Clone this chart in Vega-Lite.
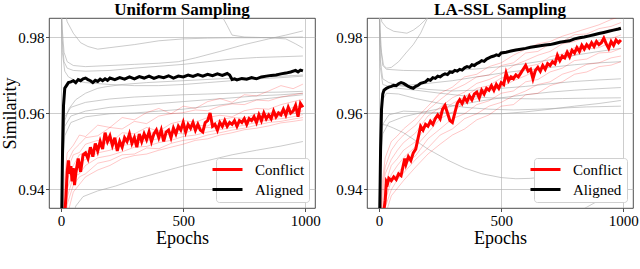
{
"$schema":"https://vega.github.io/schema/vega-lite/v6.json",
"padding":{"left":1,"top":0,"right":0,"bottom":0},
"config":{
"font":"Liberation Serif",
"view":{"stroke":"#222","strokeWidth":0.8},
"axis":{"labelFont":"Liberation Serif","labelFontSize":15,"labelColor":"#000","titleFont":"Liberation Serif","titleFontSize":18,"titleFontWeight":"normal","titleColor":"#000","grid":true,"gridColor":"#b0b0b0","gridWidth":0.8,"gridOpacity":0.8,"domain":false,"tickColor":"#222","tickSize":3.5,"tickWidth":0.8,"labelPadding":1.5},
"title":{"font":"Liberation Serif","fontSize":17,"fontWeight":"bold","color":"#000","offset":-1},
"legend":{"orient":"bottom-right","offset":6,"fillColor":"white","strokeColor":"#d0d0d0","cornerRadius":3,"padding":4,"symbolType":"M-3,0L3,0","symbolStrokeWidth":3,"symbolSize":100,"labelFont":"Liberation Serif","labelFontSize":15,"labelColor":"#000","labelOffset":20,"rowPadding":4}
},
"data":{"values":[
{"p":"U","k":"t","s":"Conflict","e":0,"v":0.9},{"p":"U","k":"t","s":"Conflict","e":5,"v":0.925},{"p":"U","k":"t","s":"Conflict","e":10,"v":0.93},{"p":"U","k":"t","s":"Conflict","e":15,"v":0.9335},{"p":"U","k":"t","s":"Conflict","e":20,"v":0.938},{"p":"U","k":"t","s":"Conflict","e":25,"v":0.9445},{"p":"U","k":"t","s":"Conflict","e":30,"v":0.9475},{"p":"U","k":"t","s":"Conflict","e":35,"v":0.944},{"p":"U","k":"t","s":"Conflict","e":40,"v":0.946},{"p":"U","k":"t","s":"Conflict","e":45,"v":0.942},{"p":"U","k":"t","s":"Conflict","e":50,"v":0.9455},{"p":"U","k":"t","s":"Conflict","e":55,"v":0.941},{"p":"U","k":"t","s":"Conflict","e":60,"v":0.944},{"p":"U","k":"t","s":"Conflict","e":70,"v":0.948},{"p":"U","k":"t","s":"Conflict","e":80,"v":0.9445},{"p":"U","k":"t","s":"Conflict","e":90,"v":0.949},{"p":"U","k":"t","s":"Conflict","e":100,"v":0.9495},{"p":"U","k":"t","s":"Conflict","e":110,"v":0.948},{"p":"U","k":"t","s":"Conflict","e":120,"v":0.951},{"p":"U","k":"t","s":"Conflict","e":130,"v":0.9485},{"p":"U","k":"t","s":"Conflict","e":140,"v":0.952},{"p":"U","k":"t","s":"Conflict","e":150,"v":0.95},{"p":"U","k":"t","s":"Conflict","e":160,"v":0.9525},{"p":"U","k":"t","s":"Conflict","e":170,"v":0.9505},{"p":"U","k":"t","s":"Conflict","e":180,"v":0.9548},{"p":"U","k":"t","s":"Conflict","e":190,"v":0.9525},{"p":"U","k":"t","s":"Conflict","e":200,"v":0.954},{"p":"U","k":"t","s":"Conflict","e":210,"v":0.9515},{"p":"U","k":"t","s":"Conflict","e":220,"v":0.9535},{"p":"U","k":"t","s":"Conflict","e":230,"v":0.95},{"p":"U","k":"t","s":"Conflict","e":240,"v":0.9525},{"p":"U","k":"t","s":"Conflict","e":250,"v":0.951},{"p":"U","k":"t","s":"Conflict","e":260,"v":0.9535},{"p":"U","k":"t","s":"Conflict","e":270,"v":0.9525},{"p":"U","k":"t","s":"Conflict","e":280,"v":0.9545},{"p":"U","k":"t","s":"Conflict","e":290,"v":0.952},{"p":"U","k":"t","s":"Conflict","e":300,"v":0.9535},{"p":"U","k":"t","s":"Conflict","e":310,"v":0.951},{"p":"U","k":"t","s":"Conflict","e":320,"v":0.9545},{"p":"U","k":"t","s":"Conflict","e":330,"v":0.9525},{"p":"U","k":"t","s":"Conflict","e":340,"v":0.9545},{"p":"U","k":"t","s":"Conflict","e":350,"v":0.953},{"p":"U","k":"t","s":"Conflict","e":360,"v":0.955},{"p":"U","k":"t","s":"Conflict","e":370,"v":0.9525},{"p":"U","k":"t","s":"Conflict","e":380,"v":0.9545},{"p":"U","k":"t","s":"Conflict","e":390,"v":0.9555},{"p":"U","k":"t","s":"Conflict","e":400,"v":0.9535},{"p":"U","k":"t","s":"Conflict","e":410,"v":0.9555},{"p":"U","k":"t","s":"Conflict","e":420,"v":0.9525},{"p":"U","k":"t","s":"Conflict","e":430,"v":0.955},{"p":"U","k":"t","s":"Conflict","e":440,"v":0.9555},{"p":"U","k":"t","s":"Conflict","e":450,"v":0.9535},{"p":"U","k":"t","s":"Conflict","e":460,"v":0.956},{"p":"U","k":"t","s":"Conflict","e":470,"v":0.9545},{"p":"U","k":"t","s":"Conflict","e":480,"v":0.9565},{"p":"U","k":"t","s":"Conflict","e":490,"v":0.9555},{"p":"U","k":"t","s":"Conflict","e":500,"v":0.9575},{"p":"U","k":"t","s":"Conflict","e":510,"v":0.955},{"p":"U","k":"t","s":"Conflict","e":520,"v":0.957},{"p":"U","k":"t","s":"Conflict","e":530,"v":0.956},{"p":"U","k":"t","s":"Conflict","e":540,"v":0.9575},{"p":"U","k":"t","s":"Conflict","e":550,"v":0.9555},{"p":"U","k":"t","s":"Conflict","e":560,"v":0.957},{"p":"U","k":"t","s":"Conflict","e":570,"v":0.9555},{"p":"U","k":"t","s":"Conflict","e":580,"v":0.955},{"p":"U","k":"t","s":"Conflict","e":590,"v":0.9575},{"p":"U","k":"t","s":"Conflict","e":600,"v":0.958},{"p":"U","k":"t","s":"Conflict","e":610,"v":0.96},{"p":"U","k":"t","s":"Conflict","e":620,"v":0.9565},{"p":"U","k":"t","s":"Conflict","e":630,"v":0.957},{"p":"U","k":"t","s":"Conflict","e":640,"v":0.9555},{"p":"U","k":"t","s":"Conflict","e":650,"v":0.9575},{"p":"U","k":"t","s":"Conflict","e":660,"v":0.9565},{"p":"U","k":"t","s":"Conflict","e":670,"v":0.958},{"p":"U","k":"t","s":"Conflict","e":680,"v":0.9565},{"p":"U","k":"t","s":"Conflict","e":690,"v":0.9575},{"p":"U","k":"t","s":"Conflict","e":700,"v":0.957},{"p":"U","k":"t","s":"Conflict","e":710,"v":0.958},{"p":"U","k":"t","s":"Conflict","e":720,"v":0.9565},{"p":"U","k":"t","s":"Conflict","e":730,"v":0.958},{"p":"U","k":"t","s":"Conflict","e":740,"v":0.9575},{"p":"U","k":"t","s":"Conflict","e":750,"v":0.9585},{"p":"U","k":"t","s":"Conflict","e":760,"v":0.957},{"p":"U","k":"t","s":"Conflict","e":770,"v":0.9585},{"p":"U","k":"t","s":"Conflict","e":780,"v":0.958},{"p":"U","k":"t","s":"Conflict","e":790,"v":0.959},{"p":"U","k":"t","s":"Conflict","e":800,"v":0.9575},{"p":"U","k":"t","s":"Conflict","e":810,"v":0.9595},{"p":"U","k":"t","s":"Conflict","e":820,"v":0.958},{"p":"U","k":"t","s":"Conflict","e":830,"v":0.96},{"p":"U","k":"t","s":"Conflict","e":840,"v":0.9585},{"p":"U","k":"t","s":"Conflict","e":850,"v":0.9595},{"p":"U","k":"t","s":"Conflict","e":860,"v":0.9585},{"p":"U","k":"t","s":"Conflict","e":870,"v":0.9605},{"p":"U","k":"t","s":"Conflict","e":880,"v":0.959},{"p":"U","k":"t","s":"Conflict","e":890,"v":0.96},{"p":"U","k":"t","s":"Conflict","e":900,"v":0.9595},{"p":"U","k":"t","s":"Conflict","e":910,"v":0.961},{"p":"U","k":"t","s":"Conflict","e":920,"v":0.9595},{"p":"U","k":"t","s":"Conflict","e":930,"v":0.9615},{"p":"U","k":"t","s":"Conflict","e":940,"v":0.96},{"p":"U","k":"t","s":"Conflict","e":950,"v":0.9605},{"p":"U","k":"t","s":"Conflict","e":960,"v":0.962},{"p":"U","k":"t","s":"Conflict","e":970,"v":0.959},{"p":"U","k":"t","s":"Conflict","e":980,"v":0.9625},{"p":"U","k":"t","s":"Conflict","e":990,"v":0.9615},
{"p":"U","k":"t","s":"Aligned","e":0,"v":0.9},{"p":"U","k":"t","s":"Aligned","e":3,"v":0.935},{"p":"U","k":"t","s":"Aligned","e":6,"v":0.95},{"p":"U","k":"t","s":"Aligned","e":10,"v":0.962},{"p":"U","k":"t","s":"Aligned","e":15,"v":0.9665},{"p":"U","k":"t","s":"Aligned","e":20,"v":0.967},{"p":"U","k":"t","s":"Aligned","e":30,"v":0.968},{"p":"U","k":"t","s":"Aligned","e":40,"v":0.9682},{"p":"U","k":"t","s":"Aligned","e":50,"v":0.9685},{"p":"U","k":"t","s":"Aligned","e":60,"v":0.968},{"p":"U","k":"t","s":"Aligned","e":70,"v":0.9688},{"p":"U","k":"t","s":"Aligned","e":80,"v":0.9685},{"p":"U","k":"t","s":"Aligned","e":90,"v":0.969},{"p":"U","k":"t","s":"Aligned","e":100,"v":0.9692},{"p":"U","k":"t","s":"Aligned","e":110,"v":0.9688},{"p":"U","k":"t","s":"Aligned","e":120,"v":0.9685},{"p":"U","k":"t","s":"Aligned","e":130,"v":0.968},{"p":"U","k":"t","s":"Aligned","e":140,"v":0.9686},{"p":"U","k":"t","s":"Aligned","e":150,"v":0.9683},{"p":"U","k":"t","s":"Aligned","e":160,"v":0.9689},{"p":"U","k":"t","s":"Aligned","e":170,"v":0.9685},{"p":"U","k":"t","s":"Aligned","e":180,"v":0.969},{"p":"U","k":"t","s":"Aligned","e":190,"v":0.9686},{"p":"U","k":"t","s":"Aligned","e":200,"v":0.9692},{"p":"U","k":"t","s":"Aligned","e":220,"v":0.9688},{"p":"U","k":"t","s":"Aligned","e":240,"v":0.9693},{"p":"U","k":"t","s":"Aligned","e":260,"v":0.9689},{"p":"U","k":"t","s":"Aligned","e":280,"v":0.9695},{"p":"U","k":"t","s":"Aligned","e":300,"v":0.969},{"p":"U","k":"t","s":"Aligned","e":320,"v":0.9696},{"p":"U","k":"t","s":"Aligned","e":340,"v":0.9692},{"p":"U","k":"t","s":"Aligned","e":360,"v":0.9697},{"p":"U","k":"t","s":"Aligned","e":380,"v":0.9691},{"p":"U","k":"t","s":"Aligned","e":400,"v":0.9696},{"p":"U","k":"t","s":"Aligned","e":420,"v":0.9693},{"p":"U","k":"t","s":"Aligned","e":440,"v":0.9698},{"p":"U","k":"t","s":"Aligned","e":460,"v":0.9692},{"p":"U","k":"t","s":"Aligned","e":480,"v":0.9697},{"p":"U","k":"t","s":"Aligned","e":500,"v":0.9695},{"p":"U","k":"t","s":"Aligned","e":520,"v":0.97},{"p":"U","k":"t","s":"Aligned","e":540,"v":0.9696},{"p":"U","k":"t","s":"Aligned","e":560,"v":0.9701},{"p":"U","k":"t","s":"Aligned","e":580,"v":0.9697},{"p":"U","k":"t","s":"Aligned","e":600,"v":0.9702},{"p":"U","k":"t","s":"Aligned","e":620,"v":0.9698},{"p":"U","k":"t","s":"Aligned","e":640,"v":0.9703},{"p":"U","k":"t","s":"Aligned","e":660,"v":0.9699},{"p":"U","k":"t","s":"Aligned","e":680,"v":0.9704},{"p":"U","k":"t","s":"Aligned","e":690,"v":0.97},{"p":"U","k":"t","s":"Aligned","e":700,"v":0.9688},{"p":"U","k":"t","s":"Aligned","e":710,"v":0.969},{"p":"U","k":"t","s":"Aligned","e":720,"v":0.9687},{"p":"U","k":"t","s":"Aligned","e":740,"v":0.9691},{"p":"U","k":"t","s":"Aligned","e":760,"v":0.9689},{"p":"U","k":"t","s":"Aligned","e":780,"v":0.9693},{"p":"U","k":"t","s":"Aligned","e":800,"v":0.969},{"p":"U","k":"t","s":"Aligned","e":820,"v":0.9695},{"p":"U","k":"t","s":"Aligned","e":840,"v":0.9697},{"p":"U","k":"t","s":"Aligned","e":860,"v":0.9699},{"p":"U","k":"t","s":"Aligned","e":880,"v":0.97},{"p":"U","k":"t","s":"Aligned","e":900,"v":0.9703},{"p":"U","k":"t","s":"Aligned","e":920,"v":0.9705},{"p":"U","k":"t","s":"Aligned","e":940,"v":0.9708},{"p":"U","k":"t","s":"Aligned","e":960,"v":0.9712},{"p":"U","k":"t","s":"Aligned","e":970,"v":0.9708},{"p":"U","k":"t","s":"Aligned","e":980,"v":0.9713},{"p":"U","k":"t","s":"Aligned","e":990,"v":0.9711},
{"p":"U","k":"r","s":"r1","e":0,"v":0.9},{"p":"U","k":"r","s":"r1","e":10,"v":0.94},{"p":"U","k":"r","s":"r1","e":25,"v":0.9495},{"p":"U","k":"r","s":"r1","e":50,"v":0.9515},{"p":"U","k":"r","s":"r1","e":75,"v":0.9542},{"p":"U","k":"r","s":"r1","e":100,"v":0.9538},{"p":"U","k":"r","s":"r1","e":150,"v":0.9568},{"p":"U","k":"r","s":"r1","e":200,"v":0.9562},{"p":"U","k":"r","s":"r1","e":250,"v":0.9588},{"p":"U","k":"r","s":"r1","e":300,"v":0.9582},{"p":"U","k":"r","s":"r1","e":350,"v":0.9601},{"p":"U","k":"r","s":"r1","e":400,"v":0.9612},{"p":"U","k":"r","s":"r1","e":450,"v":0.9598},{"p":"U","k":"r","s":"r1","e":500,"v":0.9618},{"p":"U","k":"r","s":"r1","e":550,"v":0.9612},{"p":"U","k":"r","s":"r1","e":600,"v":0.963},{"p":"U","k":"r","s":"r1","e":650,"v":0.9638},{"p":"U","k":"r","s":"r1","e":700,"v":0.9628},{"p":"U","k":"r","s":"r1","e":750,"v":0.9648},{"p":"U","k":"r","s":"r1","e":800,"v":0.9645},{"p":"U","k":"r","s":"r1","e":850,"v":0.9658},{"p":"U","k":"r","s":"r1","e":900,"v":0.9672},{"p":"U","k":"r","s":"r1","e":950,"v":0.9664},{"p":"U","k":"r","s":"r1","e":990,"v":0.9676},
{"p":"U","k":"r","s":"r2","e":0,"v":0.9},{"p":"U","k":"r","s":"r2","e":10,"v":0.937},{"p":"U","k":"r","s":"r2","e":25,"v":0.9468},{"p":"U","k":"r","s":"r2","e":50,"v":0.9502},{"p":"U","k":"r","s":"r2","e":75,"v":0.9518},{"p":"U","k":"r","s":"r2","e":100,"v":0.9535},{"p":"U","k":"r","s":"r2","e":150,"v":0.954},{"p":"U","k":"r","s":"r2","e":200,"v":0.9562},{"p":"U","k":"r","s":"r2","e":250,"v":0.9558},{"p":"U","k":"r","s":"r2","e":300,"v":0.9578},{"p":"U","k":"r","s":"r2","e":350,"v":0.9572},{"p":"U","k":"r","s":"r2","e":400,"v":0.9592},{"p":"U","k":"r","s":"r2","e":450,"v":0.9598},{"p":"U","k":"r","s":"r2","e":500,"v":0.9601},{"p":"U","k":"r","s":"r2","e":550,"v":0.9608},{"p":"U","k":"r","s":"r2","e":600,"v":0.9606},{"p":"U","k":"r","s":"r2","e":650,"v":0.9618},{"p":"U","k":"r","s":"r2","e":700,"v":0.9624},{"p":"U","k":"r","s":"r2","e":750,"v":0.9622},{"p":"U","k":"r","s":"r2","e":800,"v":0.9634},{"p":"U","k":"r","s":"r2","e":850,"v":0.9632},{"p":"U","k":"r","s":"r2","e":900,"v":0.9642},{"p":"U","k":"r","s":"r2","e":950,"v":0.9648},{"p":"U","k":"r","s":"r2","e":990,"v":0.9652},
{"p":"U","k":"r","s":"r3","e":0,"v":0.9},{"p":"U","k":"r","s":"r3","e":10,"v":0.934},{"p":"U","k":"r","s":"r3","e":25,"v":0.9448},{"p":"U","k":"r","s":"r3","e":50,"v":0.949},{"p":"U","k":"r","s":"r3","e":75,"v":0.9496},{"p":"U","k":"r","s":"r3","e":100,"v":0.9518},{"p":"U","k":"r","s":"r3","e":150,"v":0.9528},{"p":"U","k":"r","s":"r3","e":200,"v":0.952},{"p":"U","k":"r","s":"r3","e":250,"v":0.9548},{"p":"U","k":"r","s":"r3","e":300,"v":0.9545},{"p":"U","k":"r","s":"r3","e":350,"v":0.9562},{"p":"U","k":"r","s":"r3","e":400,"v":0.9552},{"p":"U","k":"r","s":"r3","e":450,"v":0.9572},{"p":"U","k":"r","s":"r3","e":500,"v":0.958},{"p":"U","k":"r","s":"r3","e":550,"v":0.9576},{"p":"U","k":"r","s":"r3","e":600,"v":0.9588},{"p":"U","k":"r","s":"r3","e":650,"v":0.9594},{"p":"U","k":"r","s":"r3","e":700,"v":0.959},{"p":"U","k":"r","s":"r3","e":750,"v":0.9606},{"p":"U","k":"r","s":"r3","e":800,"v":0.9612},{"p":"U","k":"r","s":"r3","e":850,"v":0.961},{"p":"U","k":"r","s":"r3","e":900,"v":0.9622},{"p":"U","k":"r","s":"r3","e":950,"v":0.963},{"p":"U","k":"r","s":"r3","e":990,"v":0.9636},
{"p":"U","k":"r","s":"r4","e":0,"v":0.9},{"p":"U","k":"r","s":"r4","e":10,"v":0.931},{"p":"U","k":"r","s":"r4","e":25,"v":0.9425},{"p":"U","k":"r","s":"r4","e":50,"v":0.9462},{"p":"U","k":"r","s":"r4","e":75,"v":0.949},{"p":"U","k":"r","s":"r4","e":100,"v":0.9498},{"p":"U","k":"r","s":"r4","e":150,"v":0.951},{"p":"U","k":"r","s":"r4","e":200,"v":0.9525},{"p":"U","k":"r","s":"r4","e":250,"v":0.9518},{"p":"U","k":"r","s":"r4","e":300,"v":0.9538},{"p":"U","k":"r","s":"r4","e":350,"v":0.9542},{"p":"U","k":"r","s":"r4","e":400,"v":0.9555},{"p":"U","k":"r","s":"r4","e":450,"v":0.955},{"p":"U","k":"r","s":"r4","e":500,"v":0.9565},{"p":"U","k":"r","s":"r4","e":550,"v":0.9568},{"p":"U","k":"r","s":"r4","e":600,"v":0.9566},{"p":"U","k":"r","s":"r4","e":650,"v":0.9582},{"p":"U","k":"r","s":"r4","e":700,"v":0.9588},{"p":"U","k":"r","s":"r4","e":750,"v":0.9586},{"p":"U","k":"r","s":"r4","e":800,"v":0.9598},{"p":"U","k":"r","s":"r4","e":850,"v":0.96},{"p":"U","k":"r","s":"r4","e":900,"v":0.9604},{"p":"U","k":"r","s":"r4","e":950,"v":0.9615},{"p":"U","k":"r","s":"r4","e":990,"v":0.962},
{"p":"U","k":"r","s":"r5","e":0,"v":0.9},{"p":"U","k":"r","s":"r5","e":10,"v":0.929},{"p":"U","k":"r","s":"r5","e":25,"v":0.94},{"p":"U","k":"r","s":"r5","e":50,"v":0.9448},{"p":"U","k":"r","s":"r5","e":75,"v":0.947},{"p":"U","k":"r","s":"r5","e":100,"v":0.9478},{"p":"U","k":"r","s":"r5","e":150,"v":0.9495},{"p":"U","k":"r","s":"r5","e":200,"v":0.9502},{"p":"U","k":"r","s":"r5","e":250,"v":0.9515},{"p":"U","k":"r","s":"r5","e":300,"v":0.9518},{"p":"U","k":"r","s":"r5","e":350,"v":0.9528},{"p":"U","k":"r","s":"r5","e":400,"v":0.9532},{"p":"U","k":"r","s":"r5","e":450,"v":0.9548},{"p":"U","k":"r","s":"r5","e":500,"v":0.9545},{"p":"U","k":"r","s":"r5","e":550,"v":0.9558},{"p":"U","k":"r","s":"r5","e":600,"v":0.9562},{"p":"U","k":"r","s":"r5","e":650,"v":0.956},{"p":"U","k":"r","s":"r5","e":700,"v":0.9572},{"p":"U","k":"r","s":"r5","e":750,"v":0.9576},{"p":"U","k":"r","s":"r5","e":800,"v":0.9582},{"p":"U","k":"r","s":"r5","e":850,"v":0.958},{"p":"U","k":"r","s":"r5","e":900,"v":0.9592},{"p":"U","k":"r","s":"r5","e":950,"v":0.9598},{"p":"U","k":"r","s":"r5","e":990,"v":0.9606},
{"p":"U","k":"r","s":"r6","e":0,"v":0.9},{"p":"U","k":"r","s":"r6","e":10,"v":0.927},{"p":"U","k":"r","s":"r6","e":25,"v":0.9378},{"p":"U","k":"r","s":"r6","e":50,"v":0.9432},{"p":"U","k":"r","s":"r6","e":75,"v":0.944},{"p":"U","k":"r","s":"r6","e":100,"v":0.9462},{"p":"U","k":"r","s":"r6","e":150,"v":0.9482},{"p":"U","k":"r","s":"r6","e":200,"v":0.9488},{"p":"U","k":"r","s":"r6","e":250,"v":0.9498},{"p":"U","k":"r","s":"r6","e":300,"v":0.951},{"p":"U","k":"r","s":"r6","e":350,"v":0.9512},{"p":"U","k":"r","s":"r6","e":400,"v":0.9522},{"p":"U","k":"r","s":"r6","e":450,"v":0.9528},{"p":"U","k":"r","s":"r6","e":500,"v":0.9538},{"p":"U","k":"r","s":"r6","e":550,"v":0.9542},{"p":"U","k":"r","s":"r6","e":600,"v":0.955},{"p":"U","k":"r","s":"r6","e":650,"v":0.9556},{"p":"U","k":"r","s":"r6","e":700,"v":0.9562},{"p":"U","k":"r","s":"r6","e":750,"v":0.9568},{"p":"U","k":"r","s":"r6","e":800,"v":0.9575},{"p":"U","k":"r","s":"r6","e":850,"v":0.9582},{"p":"U","k":"r","s":"r6","e":900,"v":0.9585},{"p":"U","k":"r","s":"r6","e":950,"v":0.959},{"p":"U","k":"r","s":"r6","e":990,"v":0.9596},
{"p":"U","k":"r","s":"r7","e":0,"v":0.9},{"p":"U","k":"r","s":"r7","e":10,"v":0.925},{"p":"U","k":"r","s":"r7","e":25,"v":0.936},{"p":"U","k":"r","s":"r7","e":50,"v":0.941},{"p":"U","k":"r","s":"r7","e":75,"v":0.9432},{"p":"U","k":"r","s":"r7","e":100,"v":0.944},{"p":"U","k":"r","s":"r7","e":150,"v":0.9468},{"p":"U","k":"r","s":"r7","e":200,"v":0.9475},{"p":"U","k":"r","s":"r7","e":250,"v":0.949},{"p":"U","k":"r","s":"r7","e":300,"v":0.9492},{"p":"U","k":"r","s":"r7","e":350,"v":0.9508},{"p":"U","k":"r","s":"r7","e":400,"v":0.9506},{"p":"U","k":"r","s":"r7","e":450,"v":0.952},{"p":"U","k":"r","s":"r7","e":500,"v":0.9528},{"p":"U","k":"r","s":"r7","e":550,"v":0.9532},{"p":"U","k":"r","s":"r7","e":600,"v":0.9542},{"p":"U","k":"r","s":"r7","e":650,"v":0.9548},{"p":"U","k":"r","s":"r7","e":700,"v":0.9555},{"p":"U","k":"r","s":"r7","e":750,"v":0.956},{"p":"U","k":"r","s":"r7","e":800,"v":0.9568},{"p":"U","k":"r","s":"r7","e":850,"v":0.9575},{"p":"U","k":"r","s":"r7","e":900,"v":0.9578},{"p":"U","k":"r","s":"r7","e":950,"v":0.9584},{"p":"U","k":"r","s":"r7","e":990,"v":0.9588},
{"p":"U","k":"r","s":"r8","e":0,"v":0.9},{"p":"U","k":"r","s":"r8","e":10,"v":0.922},{"p":"U","k":"r","s":"r8","e":25,"v":0.933},{"p":"U","k":"r","s":"r8","e":50,"v":0.9392},{"p":"U","k":"r","s":"r8","e":75,"v":0.9412},{"p":"U","k":"r","s":"r8","e":100,"v":0.9432},{"p":"U","k":"r","s":"r8","e":150,"v":0.945},{"p":"U","k":"r","s":"r8","e":200,"v":0.9462},{"p":"U","k":"r","s":"r8","e":250,"v":0.948},{"p":"U","k":"r","s":"r8","e":300,"v":0.9488},{"p":"U","k":"r","s":"r8","e":350,"v":0.9492},{"p":"U","k":"r","s":"r8","e":400,"v":0.9502},{"p":"U","k":"r","s":"r8","e":450,"v":0.951},{"p":"U","k":"r","s":"r8","e":500,"v":0.9518},{"p":"U","k":"r","s":"r8","e":550,"v":0.9528},{"p":"U","k":"r","s":"r8","e":600,"v":0.9532},{"p":"U","k":"r","s":"r8","e":650,"v":0.9542},{"p":"U","k":"r","s":"r8","e":700,"v":0.9548},{"p":"U","k":"r","s":"r8","e":750,"v":0.9556},{"p":"U","k":"r","s":"r8","e":800,"v":0.956},{"p":"U","k":"r","s":"r8","e":850,"v":0.9566},{"p":"U","k":"r","s":"r8","e":900,"v":0.9574},{"p":"U","k":"r","s":"r8","e":950,"v":0.9578},{"p":"U","k":"r","s":"r8","e":990,"v":0.9582},
{"p":"U","k":"g","s":"g1","e":0,"v":0.992},{"p":"U","k":"g","s":"g1","e":10,"v":0.988},{"p":"U","k":"g","s":"g1","e":25,"v":0.984},{"p":"U","k":"g","s":"g1","e":50,"v":0.981},{"p":"U","k":"g","s":"g1","e":80,"v":0.9785},{"p":"U","k":"g","s":"g1","e":110,"v":0.9775},{"p":"U","k":"g","s":"g1","e":150,"v":0.9768},{"p":"U","k":"g","s":"g1","e":200,"v":0.9772},{"p":"U","k":"g","s":"g1","e":300,"v":0.978},{"p":"U","k":"g","s":"g1","e":400,"v":0.979},{"p":"U","k":"g","s":"g1","e":500,"v":0.9795},{"p":"U","k":"g","s":"g1","e":600,"v":0.9797},{"p":"U","k":"g","s":"g1","e":700,"v":0.9798},{"p":"U","k":"g","s":"g1","e":800,"v":0.9798},{"p":"U","k":"g","s":"g1","e":900,"v":0.9799},{"p":"U","k":"g","s":"g1","e":990,"v":0.98},
{"p":"U","k":"g","s":"g2","e":0,"v":0.995},{"p":"U","k":"g","s":"g2","e":300,"v":0.993},{"p":"U","k":"g","s":"g2","e":600,"v":0.989},{"p":"U","k":"g","s":"g2","e":650,"v":0.9865},{"p":"U","k":"g","s":"g2","e":680,"v":0.983},{"p":"U","k":"g","s":"g2","e":700,"v":0.9805},{"p":"U","k":"g","s":"g2","e":750,"v":0.98},{"p":"U","k":"g","s":"g2","e":850,"v":0.9798},{"p":"U","k":"g","s":"g2","e":920,"v":0.9795},{"p":"U","k":"g","s":"g2","e":960,"v":0.9782},{"p":"U","k":"g","s":"g2","e":990,"v":0.9771},
{"p":"U","k":"g","s":"g3","e":0,"v":0.99},{"p":"U","k":"g","s":"g3","e":5,"v":0.982},{"p":"U","k":"g","s":"g3","e":12,"v":0.976},{"p":"U","k":"g","s":"g3","e":25,"v":0.9735},{"p":"U","k":"g","s":"g3","e":50,"v":0.9725},{"p":"U","k":"g","s":"g3","e":100,"v":0.9722},{"p":"U","k":"g","s":"g3","e":200,"v":0.9725},{"p":"U","k":"g","s":"g3","e":300,"v":0.9728},{"p":"U","k":"g","s":"g3","e":400,"v":0.9731},{"p":"U","k":"g","s":"g3","e":480,"v":0.9735},{"p":"U","k":"g","s":"g3","e":550,"v":0.9745},{"p":"U","k":"g","s":"g3","e":650,"v":0.9762},{"p":"U","k":"g","s":"g3","e":750,"v":0.978},{"p":"U","k":"g","s":"g3","e":850,"v":0.9795},{"p":"U","k":"g","s":"g3","e":920,"v":0.9805},{"p":"U","k":"g","s":"g3","e":990,"v":0.9816},
{"p":"U","k":"g","s":"g4","e":0,"v":0.99},{"p":"U","k":"g","s":"g4","e":5,"v":0.979},{"p":"U","k":"g","s":"g4","e":12,"v":0.9735},{"p":"U","k":"g","s":"g4","e":25,"v":0.9718},{"p":"U","k":"g","s":"g4","e":50,"v":0.9712},{"p":"U","k":"g","s":"g4","e":100,"v":0.971},{"p":"U","k":"g","s":"g4","e":200,"v":0.9712},{"p":"U","k":"g","s":"g4","e":300,"v":0.9718},{"p":"U","k":"g","s":"g4","e":500,"v":0.9728},{"p":"U","k":"g","s":"g4","e":600,"v":0.9735},{"p":"U","k":"g","s":"g4","e":700,"v":0.9742},{"p":"U","k":"g","s":"g4","e":800,"v":0.9746},{"p":"U","k":"g","s":"g4","e":900,"v":0.9748},{"p":"U","k":"g","s":"g4","e":990,"v":0.975},
{"p":"U","k":"g","s":"g5","e":0,"v":0.99},{"p":"U","k":"g","s":"g5","e":5,"v":0.976},{"p":"U","k":"g","s":"g5","e":15,"v":0.971},{"p":"U","k":"g","s":"g5","e":30,"v":0.9695},{"p":"U","k":"g","s":"g5","e":60,"v":0.9685},{"p":"U","k":"g","s":"g5","e":100,"v":0.968},{"p":"U","k":"g","s":"g5","e":200,"v":0.9675},{"p":"U","k":"g","s":"g5","e":300,"v":0.9672},{"p":"U","k":"g","s":"g5","e":400,"v":0.9672},{"p":"U","k":"g","s":"g5","e":500,"v":0.9675},{"p":"U","k":"g","s":"g5","e":600,"v":0.968},{"p":"U","k":"g","s":"g5","e":700,"v":0.9685},{"p":"U","k":"g","s":"g5","e":800,"v":0.969},{"p":"U","k":"g","s":"g5","e":900,"v":0.9693},{"p":"U","k":"g","s":"g5","e":990,"v":0.9697},
{"p":"U","k":"g","s":"g6","e":0,"v":0.93},{"p":"U","k":"g","s":"g6","e":5,"v":0.95},{"p":"U","k":"g","s":"g6","e":15,"v":0.958},{"p":"U","k":"g","s":"g6","e":33,"v":0.9612},{"p":"U","k":"g","s":"g6","e":60,"v":0.9635},{"p":"U","k":"g","s":"g6","e":100,"v":0.9652},{"p":"U","k":"g","s":"g6","e":150,"v":0.9665},{"p":"U","k":"g","s":"g6","e":183,"v":0.9669},{"p":"U","k":"g","s":"g6","e":250,"v":0.9675},{"p":"U","k":"g","s":"g6","e":350,"v":0.968},{"p":"U","k":"g","s":"g6","e":500,"v":0.9685},{"p":"U","k":"g","s":"g6","e":650,"v":0.969},{"p":"U","k":"g","s":"g6","e":800,"v":0.9693},{"p":"U","k":"g","s":"g6","e":990,"v":0.97},
{"p":"U","k":"g","s":"g7","e":0,"v":0.93},{"p":"U","k":"g","s":"g7","e":5,"v":0.952},{"p":"U","k":"g","s":"g7","e":15,"v":0.959},{"p":"U","k":"g","s":"g7","e":40,"v":0.9615},{"p":"U","k":"g","s":"g7","e":100,"v":0.9628},{"p":"U","k":"g","s":"g7","e":200,"v":0.9637},{"p":"U","k":"g","s":"g7","e":300,"v":0.9642},{"p":"U","k":"g","s":"g7","e":400,"v":0.9645},{"p":"U","k":"g","s":"g7","e":500,"v":0.9648},{"p":"U","k":"g","s":"g7","e":600,"v":0.965},{"p":"U","k":"g","s":"g7","e":700,"v":0.9652},{"p":"U","k":"g","s":"g7","e":800,"v":0.9654},{"p":"U","k":"g","s":"g7","e":900,"v":0.9655},{"p":"U","k":"g","s":"g7","e":990,"v":0.9657},
{"p":"U","k":"g","s":"g8","e":0,"v":0.93},{"p":"U","k":"g","s":"g8","e":5,"v":0.948},{"p":"U","k":"g","s":"g8","e":15,"v":0.9565},{"p":"U","k":"g","s":"g8","e":40,"v":0.9592},{"p":"U","k":"g","s":"g8","e":100,"v":0.9605},{"p":"U","k":"g","s":"g8","e":200,"v":0.9615},{"p":"U","k":"g","s":"g8","e":300,"v":0.962},{"p":"U","k":"g","s":"g8","e":400,"v":0.9625},{"p":"U","k":"g","s":"g8","e":500,"v":0.963},{"p":"U","k":"g","s":"g8","e":600,"v":0.9635},{"p":"U","k":"g","s":"g8","e":700,"v":0.964},{"p":"U","k":"g","s":"g8","e":800,"v":0.9645},{"p":"U","k":"g","s":"g8","e":900,"v":0.9648},{"p":"U","k":"g","s":"g8","e":990,"v":0.9652},
{"p":"U","k":"g","s":"g9","e":0,"v":0.93},{"p":"U","k":"g","s":"g9","e":5,"v":0.945},{"p":"U","k":"g","s":"g9","e":15,"v":0.954},{"p":"U","k":"g","s":"g9","e":40,"v":0.9575},{"p":"U","k":"g","s":"g9","e":100,"v":0.959},{"p":"U","k":"g","s":"g9","e":200,"v":0.9598},{"p":"U","k":"g","s":"g9","e":300,"v":0.96},{"p":"U","k":"g","s":"g9","e":400,"v":0.9605},{"p":"U","k":"g","s":"g9","e":500,"v":0.961},{"p":"U","k":"g","s":"g9","e":600,"v":0.9618},{"p":"U","k":"g","s":"g9","e":700,"v":0.9625},{"p":"U","k":"g","s":"g9","e":800,"v":0.9635},{"p":"U","k":"g","s":"g9","e":900,"v":0.9642},{"p":"U","k":"g","s":"g9","e":990,"v":0.9648},
{"p":"U","k":"g","s":"g10","e":0,"v":0.9},{"p":"U","k":"g","s":"g10","e":40,"v":0.93},{"p":"U","k":"g","s":"g10","e":60,"v":0.9355},{"p":"U","k":"g","s":"g10","e":90,"v":0.938},{"p":"U","k":"g","s":"g10","e":150,"v":0.9395},{"p":"U","k":"g","s":"g10","e":224,"v":0.9408},{"p":"U","k":"g","s":"g10","e":300,"v":0.9425},{"p":"U","k":"g","s":"g10","e":400,"v":0.9443},{"p":"U","k":"g","s":"g10","e":497,"v":0.946},{"p":"U","k":"g","s":"g10","e":600,"v":0.9475},{"p":"U","k":"g","s":"g10","e":700,"v":0.949},{"p":"U","k":"g","s":"g10","e":800,"v":0.9502},{"p":"U","k":"g","s":"g10","e":900,"v":0.9513},{"p":"U","k":"g","s":"g10","e":990,"v":0.9525},
{"p":"L","k":"t","s":"Conflict","e":0,"v":0.9},{"p":"L","k":"t","s":"Conflict","e":10,"v":0.925},{"p":"L","k":"t","s":"Conflict","e":15,"v":0.933},{"p":"L","k":"t","s":"Conflict","e":20,"v":0.9345},{"p":"L","k":"t","s":"Conflict","e":25,"v":0.937},{"p":"L","k":"t","s":"Conflict","e":30,"v":0.942},{"p":"L","k":"t","s":"Conflict","e":35,"v":0.9415},{"p":"L","k":"t","s":"Conflict","e":40,"v":0.9428},{"p":"L","k":"t","s":"Conflict","e":50,"v":0.9422},{"p":"L","k":"t","s":"Conflict","e":60,"v":0.9432},{"p":"L","k":"t","s":"Conflict","e":70,"v":0.9425},{"p":"L","k":"t","s":"Conflict","e":80,"v":0.944},{"p":"L","k":"t","s":"Conflict","e":90,"v":0.9435},{"p":"L","k":"t","s":"Conflict","e":100,"v":0.9465},{"p":"L","k":"t","s":"Conflict","e":105,"v":0.948},{"p":"L","k":"t","s":"Conflict","e":110,"v":0.9465},{"p":"L","k":"t","s":"Conflict","e":120,"v":0.9485},{"p":"L","k":"t","s":"Conflict","e":130,"v":0.9475},{"p":"L","k":"t","s":"Conflict","e":140,"v":0.9495},{"p":"L","k":"t","s":"Conflict","e":150,"v":0.9505},{"p":"L","k":"t","s":"Conflict","e":160,"v":0.9535},{"p":"L","k":"t","s":"Conflict","e":170,"v":0.9565},{"p":"L","k":"t","s":"Conflict","e":180,"v":0.9555},{"p":"L","k":"t","s":"Conflict","e":190,"v":0.957},{"p":"L","k":"t","s":"Conflict","e":200,"v":0.9565},{"p":"L","k":"t","s":"Conflict","e":210,"v":0.9578},{"p":"L","k":"t","s":"Conflict","e":220,"v":0.957},{"p":"L","k":"t","s":"Conflict","e":230,"v":0.9585},{"p":"L","k":"t","s":"Conflict","e":240,"v":0.9595},{"p":"L","k":"t","s":"Conflict","e":250,"v":0.9585},{"p":"L","k":"t","s":"Conflict","e":260,"v":0.961},{"p":"L","k":"t","s":"Conflict","e":270,"v":0.962},{"p":"L","k":"t","s":"Conflict","e":280,"v":0.96},{"p":"L","k":"t","s":"Conflict","e":290,"v":0.958},{"p":"L","k":"t","s":"Conflict","e":300,"v":0.9575},{"p":"L","k":"t","s":"Conflict","e":310,"v":0.96},{"p":"L","k":"t","s":"Conflict","e":320,"v":0.9625},{"p":"L","k":"t","s":"Conflict","e":330,"v":0.9635},{"p":"L","k":"t","s":"Conflict","e":340,"v":0.9625},{"p":"L","k":"t","s":"Conflict","e":350,"v":0.964},{"p":"L","k":"t","s":"Conflict","e":360,"v":0.963},{"p":"L","k":"t","s":"Conflict","e":370,"v":0.9645},{"p":"L","k":"t","s":"Conflict","e":380,"v":0.9635},{"p":"L","k":"t","s":"Conflict","e":390,"v":0.965},{"p":"L","k":"t","s":"Conflict","e":400,"v":0.9655},{"p":"L","k":"t","s":"Conflict","e":410,"v":0.964},{"p":"L","k":"t","s":"Conflict","e":420,"v":0.966},{"p":"L","k":"t","s":"Conflict","e":430,"v":0.965},{"p":"L","k":"t","s":"Conflict","e":440,"v":0.9665},{"p":"L","k":"t","s":"Conflict","e":450,"v":0.966},{"p":"L","k":"t","s":"Conflict","e":460,"v":0.9672},{"p":"L","k":"t","s":"Conflict","e":470,"v":0.966},{"p":"L","k":"t","s":"Conflict","e":480,"v":0.9675},{"p":"L","k":"t","s":"Conflict","e":490,"v":0.9665},{"p":"L","k":"t","s":"Conflict","e":500,"v":0.968},{"p":"L","k":"t","s":"Conflict","e":510,"v":0.9675},{"p":"L","k":"t","s":"Conflict","e":520,"v":0.9705},{"p":"L","k":"t","s":"Conflict","e":530,"v":0.9685},{"p":"L","k":"t","s":"Conflict","e":540,"v":0.9695},{"p":"L","k":"t","s":"Conflict","e":550,"v":0.969},{"p":"L","k":"t","s":"Conflict","e":560,"v":0.97},{"p":"L","k":"t","s":"Conflict","e":570,"v":0.9695},{"p":"L","k":"t","s":"Conflict","e":580,"v":0.9705},{"p":"L","k":"t","s":"Conflict","e":590,"v":0.9715},{"p":"L","k":"t","s":"Conflict","e":600,"v":0.9725},{"p":"L","k":"t","s":"Conflict","e":610,"v":0.971},{"p":"L","k":"t","s":"Conflict","e":620,"v":0.9715},{"p":"L","k":"t","s":"Conflict","e":630,"v":0.969},{"p":"L","k":"t","s":"Conflict","e":640,"v":0.9712},{"p":"L","k":"t","s":"Conflict","e":650,"v":0.972},{"p":"L","k":"t","s":"Conflict","e":660,"v":0.971},{"p":"L","k":"t","s":"Conflict","e":670,"v":0.9725},{"p":"L","k":"t","s":"Conflict","e":680,"v":0.9715},{"p":"L","k":"t","s":"Conflict","e":690,"v":0.973},{"p":"L","k":"t","s":"Conflict","e":700,"v":0.9725},{"p":"L","k":"t","s":"Conflict","e":710,"v":0.9735},{"p":"L","k":"t","s":"Conflict","e":720,"v":0.973},{"p":"L","k":"t","s":"Conflict","e":730,"v":0.9752},{"p":"L","k":"t","s":"Conflict","e":740,"v":0.9738},{"p":"L","k":"t","s":"Conflict","e":750,"v":0.975},{"p":"L","k":"t","s":"Conflict","e":760,"v":0.9745},{"p":"L","k":"t","s":"Conflict","e":770,"v":0.976},{"p":"L","k":"t","s":"Conflict","e":780,"v":0.9748},{"p":"L","k":"t","s":"Conflict","e":790,"v":0.9765},{"p":"L","k":"t","s":"Conflict","e":800,"v":0.9758},{"p":"L","k":"t","s":"Conflict","e":810,"v":0.9772},{"p":"L","k":"t","s":"Conflict","e":820,"v":0.9762},{"p":"L","k":"t","s":"Conflict","e":830,"v":0.9778},{"p":"L","k":"t","s":"Conflict","e":840,"v":0.9768},{"p":"L","k":"t","s":"Conflict","e":850,"v":0.978},{"p":"L","k":"t","s":"Conflict","e":860,"v":0.9772},{"p":"L","k":"t","s":"Conflict","e":870,"v":0.9785},{"p":"L","k":"t","s":"Conflict","e":880,"v":0.9775},{"p":"L","k":"t","s":"Conflict","e":890,"v":0.9788},{"p":"L","k":"t","s":"Conflict","e":900,"v":0.978},{"p":"L","k":"t","s":"Conflict","e":910,"v":0.9785},{"p":"L","k":"t","s":"Conflict","e":920,"v":0.9797},{"p":"L","k":"t","s":"Conflict","e":930,"v":0.9782},{"p":"L","k":"t","s":"Conflict","e":940,"v":0.977},{"p":"L","k":"t","s":"Conflict","e":950,"v":0.9788},{"p":"L","k":"t","s":"Conflict","e":960,"v":0.9778},{"p":"L","k":"t","s":"Conflict","e":970,"v":0.9792},{"p":"L","k":"t","s":"Conflict","e":980,"v":0.9785},{"p":"L","k":"t","s":"Conflict","e":990,"v":0.9792},
{"p":"L","k":"t","s":"Aligned","e":0,"v":0.9},{"p":"L","k":"t","s":"Aligned","e":3,"v":0.935},{"p":"L","k":"t","s":"Aligned","e":6,"v":0.95},{"p":"L","k":"t","s":"Aligned","e":10,"v":0.961},{"p":"L","k":"t","s":"Aligned","e":15,"v":0.965},{"p":"L","k":"t","s":"Aligned","e":20,"v":0.966},{"p":"L","k":"t","s":"Aligned","e":30,"v":0.9665},{"p":"L","k":"t","s":"Aligned","e":40,"v":0.9668},{"p":"L","k":"t","s":"Aligned","e":50,"v":0.967},{"p":"L","k":"t","s":"Aligned","e":60,"v":0.9673},{"p":"L","k":"t","s":"Aligned","e":70,"v":0.9672},{"p":"L","k":"t","s":"Aligned","e":80,"v":0.9677},{"p":"L","k":"t","s":"Aligned","e":90,"v":0.968},{"p":"L","k":"t","s":"Aligned","e":100,"v":0.9678},{"p":"L","k":"t","s":"Aligned","e":110,"v":0.9674},{"p":"L","k":"t","s":"Aligned","e":120,"v":0.967},{"p":"L","k":"t","s":"Aligned","e":130,"v":0.9667},{"p":"L","k":"t","s":"Aligned","e":140,"v":0.9665},{"p":"L","k":"t","s":"Aligned","e":150,"v":0.967},{"p":"L","k":"t","s":"Aligned","e":160,"v":0.9673},{"p":"L","k":"t","s":"Aligned","e":170,"v":0.9678},{"p":"L","k":"t","s":"Aligned","e":180,"v":0.968},{"p":"L","k":"t","s":"Aligned","e":190,"v":0.9682},{"p":"L","k":"t","s":"Aligned","e":200,"v":0.9688},{"p":"L","k":"t","s":"Aligned","e":210,"v":0.9686},{"p":"L","k":"t","s":"Aligned","e":220,"v":0.9693},{"p":"L","k":"t","s":"Aligned","e":230,"v":0.9691},{"p":"L","k":"t","s":"Aligned","e":240,"v":0.9697},{"p":"L","k":"t","s":"Aligned","e":250,"v":0.9695},{"p":"L","k":"t","s":"Aligned","e":260,"v":0.97},{"p":"L","k":"t","s":"Aligned","e":270,"v":0.9703},{"p":"L","k":"t","s":"Aligned","e":280,"v":0.9701},{"p":"L","k":"t","s":"Aligned","e":290,"v":0.9708},{"p":"L","k":"t","s":"Aligned","e":300,"v":0.9707},{"p":"L","k":"t","s":"Aligned","e":310,"v":0.9712},{"p":"L","k":"t","s":"Aligned","e":320,"v":0.971},{"p":"L","k":"t","s":"Aligned","e":330,"v":0.9715},{"p":"L","k":"t","s":"Aligned","e":340,"v":0.9713},{"p":"L","k":"t","s":"Aligned","e":350,"v":0.9719},{"p":"L","k":"t","s":"Aligned","e":360,"v":0.9722},{"p":"L","k":"t","s":"Aligned","e":370,"v":0.972},{"p":"L","k":"t","s":"Aligned","e":380,"v":0.9727},{"p":"L","k":"t","s":"Aligned","e":390,"v":0.9725},{"p":"L","k":"t","s":"Aligned","e":400,"v":0.973},{"p":"L","k":"t","s":"Aligned","e":410,"v":0.9733},{"p":"L","k":"t","s":"Aligned","e":420,"v":0.9738},{"p":"L","k":"t","s":"Aligned","e":430,"v":0.9736},{"p":"L","k":"t","s":"Aligned","e":440,"v":0.9742},{"p":"L","k":"t","s":"Aligned","e":450,"v":0.9745},{"p":"L","k":"t","s":"Aligned","e":460,"v":0.9748},{"p":"L","k":"t","s":"Aligned","e":470,"v":0.975},{"p":"L","k":"t","s":"Aligned","e":480,"v":0.9753},{"p":"L","k":"t","s":"Aligned","e":490,"v":0.9751},{"p":"L","k":"t","s":"Aligned","e":500,"v":0.9758},{"p":"L","k":"t","s":"Aligned","e":520,"v":0.976},{"p":"L","k":"t","s":"Aligned","e":540,"v":0.9763},{"p":"L","k":"t","s":"Aligned","e":560,"v":0.9766},{"p":"L","k":"t","s":"Aligned","e":580,"v":0.9768},{"p":"L","k":"t","s":"Aligned","e":600,"v":0.977},{"p":"L","k":"t","s":"Aligned","e":620,"v":0.9773},{"p":"L","k":"t","s":"Aligned","e":640,"v":0.9775},{"p":"L","k":"t","s":"Aligned","e":660,"v":0.9777},{"p":"L","k":"t","s":"Aligned","e":680,"v":0.9779},{"p":"L","k":"t","s":"Aligned","e":700,"v":0.978},{"p":"L","k":"t","s":"Aligned","e":720,"v":0.9783},{"p":"L","k":"t","s":"Aligned","e":740,"v":0.9786},{"p":"L","k":"t","s":"Aligned","e":760,"v":0.9788},{"p":"L","k":"t","s":"Aligned","e":780,"v":0.979},{"p":"L","k":"t","s":"Aligned","e":800,"v":0.9795},{"p":"L","k":"t","s":"Aligned","e":820,"v":0.9798},{"p":"L","k":"t","s":"Aligned","e":840,"v":0.98},{"p":"L","k":"t","s":"Aligned","e":860,"v":0.9803},{"p":"L","k":"t","s":"Aligned","e":880,"v":0.9806},{"p":"L","k":"t","s":"Aligned","e":900,"v":0.9809},{"p":"L","k":"t","s":"Aligned","e":920,"v":0.9812},{"p":"L","k":"t","s":"Aligned","e":940,"v":0.9815},{"p":"L","k":"t","s":"Aligned","e":960,"v":0.9818},{"p":"L","k":"t","s":"Aligned","e":980,"v":0.9821},{"p":"L","k":"t","s":"Aligned","e":990,"v":0.9823},
{"p":"L","k":"r","s":"R1","e":0,"v":0.9},{"p":"L","k":"r","s":"R1","e":10,"v":0.94},{"p":"L","k":"r","s":"R1","e":25,"v":0.9482},{"p":"L","k":"r","s":"R1","e":50,"v":0.9525},{"p":"L","k":"r","s":"R1","e":75,"v":0.954},{"p":"L","k":"r","s":"R1","e":100,"v":0.9558},{"p":"L","k":"r","s":"R1","e":150,"v":0.9585},{"p":"L","k":"r","s":"R1","e":200,"v":0.9618},{"p":"L","k":"r","s":"R1","e":250,"v":0.9652},{"p":"L","k":"r","s":"R1","e":300,"v":0.9668},{"p":"L","k":"r","s":"R1","e":350,"v":0.9695},{"p":"L","k":"r","s":"R1","e":400,"v":0.9702},{"p":"L","k":"r","s":"R1","e":450,"v":0.9722},{"p":"L","k":"r","s":"R1","e":500,"v":0.9732},{"p":"L","k":"r","s":"R1","e":550,"v":0.9752},{"p":"L","k":"r","s":"R1","e":600,"v":0.9768},{"p":"L","k":"r","s":"R1","e":650,"v":0.9782},{"p":"L","k":"r","s":"R1","e":700,"v":0.9788},{"p":"L","k":"r","s":"R1","e":750,"v":0.9802},{"p":"L","k":"r","s":"R1","e":800,"v":0.9812},{"p":"L","k":"r","s":"R1","e":850,"v":0.9822},{"p":"L","k":"r","s":"R1","e":900,"v":0.9832},{"p":"L","k":"r","s":"R1","e":950,"v":0.9846},{"p":"L","k":"r","s":"R1","e":990,"v":0.9855},
{"p":"L","k":"r","s":"R2","e":0,"v":0.9},{"p":"L","k":"r","s":"R2","e":10,"v":0.938},{"p":"L","k":"r","s":"R2","e":25,"v":0.9458},{"p":"L","k":"r","s":"R2","e":50,"v":0.9502},{"p":"L","k":"r","s":"R2","e":75,"v":0.9525},{"p":"L","k":"r","s":"R2","e":100,"v":0.9542},{"p":"L","k":"r","s":"R2","e":150,"v":0.9568},{"p":"L","k":"r","s":"R2","e":200,"v":0.9608},{"p":"L","k":"r","s":"R2","e":250,"v":0.9635},{"p":"L","k":"r","s":"R2","e":300,"v":0.966},{"p":"L","k":"r","s":"R2","e":350,"v":0.9675},{"p":"L","k":"r","s":"R2","e":400,"v":0.9695},{"p":"L","k":"r","s":"R2","e":450,"v":0.97},{"p":"L","k":"r","s":"R2","e":500,"v":0.9725},{"p":"L","k":"r","s":"R2","e":550,"v":0.9732},{"p":"L","k":"r","s":"R2","e":600,"v":0.9758},{"p":"L","k":"r","s":"R2","e":650,"v":0.9762},{"p":"L","k":"r","s":"R2","e":700,"v":0.9782},{"p":"L","k":"r","s":"R2","e":750,"v":0.9788},{"p":"L","k":"r","s":"R2","e":800,"v":0.9806},{"p":"L","k":"r","s":"R2","e":850,"v":0.9808},{"p":"L","k":"r","s":"R2","e":900,"v":0.9822},{"p":"L","k":"r","s":"R2","e":950,"v":0.9828},{"p":"L","k":"r","s":"R2","e":990,"v":0.9838},
{"p":"L","k":"r","s":"R3","e":0,"v":0.9},{"p":"L","k":"r","s":"R3","e":10,"v":0.935},{"p":"L","k":"r","s":"R3","e":25,"v":0.944},{"p":"L","k":"r","s":"R3","e":50,"v":0.9478},{"p":"L","k":"r","s":"R3","e":75,"v":0.9502},{"p":"L","k":"r","s":"R3","e":100,"v":0.9522},{"p":"L","k":"r","s":"R3","e":150,"v":0.9548},{"p":"L","k":"r","s":"R3","e":200,"v":0.9592},{"p":"L","k":"r","s":"R3","e":250,"v":0.9615},{"p":"L","k":"r","s":"R3","e":300,"v":0.964},{"p":"L","k":"r","s":"R3","e":350,"v":0.9655},{"p":"L","k":"r","s":"R3","e":400,"v":0.9678},{"p":"L","k":"r","s":"R3","e":450,"v":0.9688},{"p":"L","k":"r","s":"R3","e":500,"v":0.9702},{"p":"L","k":"r","s":"R3","e":550,"v":0.9725},{"p":"L","k":"r","s":"R3","e":600,"v":0.9738},{"p":"L","k":"r","s":"R3","e":650,"v":0.9752},{"p":"L","k":"r","s":"R3","e":700,"v":0.9762},{"p":"L","k":"r","s":"R3","e":750,"v":0.9782},{"p":"L","k":"r","s":"R3","e":800,"v":0.9788},{"p":"L","k":"r","s":"R3","e":850,"v":0.9802},{"p":"L","k":"r","s":"R3","e":900,"v":0.9808},{"p":"L","k":"r","s":"R3","e":950,"v":0.982},{"p":"L","k":"r","s":"R3","e":990,"v":0.9825},
{"p":"L","k":"r","s":"R4","e":0,"v":0.9},{"p":"L","k":"r","s":"R4","e":10,"v":0.932},{"p":"L","k":"r","s":"R4","e":25,"v":0.9412},{"p":"L","k":"r","s":"R4","e":50,"v":0.9462},{"p":"L","k":"r","s":"R4","e":75,"v":0.948},{"p":"L","k":"r","s":"R4","e":100,"v":0.9502},{"p":"L","k":"r","s":"R4","e":150,"v":0.9525},{"p":"L","k":"r","s":"R4","e":200,"v":0.9572},{"p":"L","k":"r","s":"R4","e":250,"v":0.9602},{"p":"L","k":"r","s":"R4","e":300,"v":0.9625},{"p":"L","k":"r","s":"R4","e":350,"v":0.9642},{"p":"L","k":"r","s":"R4","e":400,"v":0.9665},{"p":"L","k":"r","s":"R4","e":450,"v":0.9672},{"p":"L","k":"r","s":"R4","e":500,"v":0.9692},{"p":"L","k":"r","s":"R4","e":550,"v":0.9698},{"p":"L","k":"r","s":"R4","e":600,"v":0.9722},{"p":"L","k":"r","s":"R4","e":650,"v":0.9728},{"p":"L","k":"r","s":"R4","e":700,"v":0.9748},{"p":"L","k":"r","s":"R4","e":750,"v":0.9755},{"p":"L","k":"r","s":"R4","e":800,"v":0.9772},{"p":"L","k":"r","s":"R4","e":850,"v":0.9778},{"p":"L","k":"r","s":"R4","e":900,"v":0.9792},{"p":"L","k":"r","s":"R4","e":950,"v":0.9796},{"p":"L","k":"r","s":"R4","e":990,"v":0.9805},
{"p":"L","k":"r","s":"R5","e":0,"v":0.9},{"p":"L","k":"r","s":"R5","e":10,"v":0.93},{"p":"L","k":"r","s":"R5","e":25,"v":0.9392},{"p":"L","k":"r","s":"R5","e":50,"v":0.9438},{"p":"L","k":"r","s":"R5","e":75,"v":0.9462},{"p":"L","k":"r","s":"R5","e":100,"v":0.9482},{"p":"L","k":"r","s":"R5","e":150,"v":0.9512},{"p":"L","k":"r","s":"R5","e":200,"v":0.9548},{"p":"L","k":"r","s":"R5","e":250,"v":0.9585},{"p":"L","k":"r","s":"R5","e":300,"v":0.9602},{"p":"L","k":"r","s":"R5","e":350,"v":0.9628},{"p":"L","k":"r","s":"R5","e":400,"v":0.9638},{"p":"L","k":"r","s":"R5","e":450,"v":0.9658},{"p":"L","k":"r","s":"R5","e":500,"v":0.9668},{"p":"L","k":"r","s":"R5","e":550,"v":0.9685},{"p":"L","k":"r","s":"R5","e":600,"v":0.9698},{"p":"L","k":"r","s":"R5","e":650,"v":0.9715},{"p":"L","k":"r","s":"R5","e":700,"v":0.9725},{"p":"L","k":"r","s":"R5","e":750,"v":0.9742},{"p":"L","k":"r","s":"R5","e":800,"v":0.9752},{"p":"L","k":"r","s":"R5","e":850,"v":0.9768},{"p":"L","k":"r","s":"R5","e":900,"v":0.9772},{"p":"L","k":"r","s":"R5","e":950,"v":0.9786},{"p":"L","k":"r","s":"R5","e":990,"v":0.979},
{"p":"L","k":"r","s":"R6","e":0,"v":0.9},{"p":"L","k":"r","s":"R6","e":10,"v":0.928},{"p":"L","k":"r","s":"R6","e":25,"v":0.9368},{"p":"L","k":"r","s":"R6","e":50,"v":0.9422},{"p":"L","k":"r","s":"R6","e":75,"v":0.944},{"p":"L","k":"r","s":"R6","e":100,"v":0.9462},{"p":"L","k":"r","s":"R6","e":150,"v":0.9488},{"p":"L","k":"r","s":"R6","e":200,"v":0.9532},{"p":"L","k":"r","s":"R6","e":250,"v":0.9558},{"p":"L","k":"r","s":"R6","e":300,"v":0.9585},{"p":"L","k":"r","s":"R6","e":350,"v":0.9598},{"p":"L","k":"r","s":"R6","e":400,"v":0.9622},{"p":"L","k":"r","s":"R6","e":450,"v":0.9632},{"p":"L","k":"r","s":"R6","e":500,"v":0.9652},{"p":"L","k":"r","s":"R6","e":550,"v":0.9658},{"p":"L","k":"r","s":"R6","e":600,"v":0.9682},{"p":"L","k":"r","s":"R6","e":650,"v":0.9688},{"p":"L","k":"r","s":"R6","e":700,"v":0.9708},{"p":"L","k":"r","s":"R6","e":750,"v":0.9718},{"p":"L","k":"r","s":"R6","e":800,"v":0.9738},{"p":"L","k":"r","s":"R6","e":850,"v":0.9742},{"p":"L","k":"r","s":"R6","e":900,"v":0.9758},{"p":"L","k":"r","s":"R6","e":950,"v":0.976},{"p":"L","k":"r","s":"R6","e":990,"v":0.977},
{"p":"L","k":"r","s":"R7","e":0,"v":0.9},{"p":"L","k":"r","s":"R7","e":10,"v":0.926},{"p":"L","k":"r","s":"R7","e":25,"v":0.9352},{"p":"L","k":"r","s":"R7","e":50,"v":0.9398},{"p":"L","k":"r","s":"R7","e":75,"v":0.9425},{"p":"L","k":"r","s":"R7","e":100,"v":0.9442},{"p":"L","k":"r","s":"R7","e":150,"v":0.9478},{"p":"L","k":"r","s":"R7","e":200,"v":0.9508},{"p":"L","k":"r","s":"R7","e":250,"v":0.9542},{"p":"L","k":"r","s":"R7","e":300,"v":0.9558},{"p":"L","k":"r","s":"R7","e":350,"v":0.9585},{"p":"L","k":"r","s":"R7","e":400,"v":0.9598},{"p":"L","k":"r","s":"R7","e":450,"v":0.9618},{"p":"L","k":"r","s":"R7","e":500,"v":0.9628},{"p":"L","k":"r","s":"R7","e":550,"v":0.9645},{"p":"L","k":"r","s":"R7","e":600,"v":0.9658},{"p":"L","k":"r","s":"R7","e":650,"v":0.9675},{"p":"L","k":"r","s":"R7","e":700,"v":0.9682},{"p":"L","k":"r","s":"R7","e":750,"v":0.9702},{"p":"L","k":"r","s":"R7","e":800,"v":0.9712},{"p":"L","k":"r","s":"R7","e":850,"v":0.9728},{"p":"L","k":"r","s":"R7","e":900,"v":0.9732},{"p":"L","k":"r","s":"R7","e":950,"v":0.9745},{"p":"L","k":"r","s":"R7","e":990,"v":0.975},
{"p":"L","k":"r","s":"R8","e":0,"v":0.9},{"p":"L","k":"r","s":"R8","e":10,"v":0.924},{"p":"L","k":"r","s":"R8","e":25,"v":0.933},{"p":"L","k":"r","s":"R8","e":50,"v":0.9382},{"p":"L","k":"r","s":"R8","e":75,"v":0.9402},{"p":"L","k":"r","s":"R8","e":100,"v":0.9422},{"p":"L","k":"r","s":"R8","e":150,"v":0.9458},{"p":"L","k":"r","s":"R8","e":200,"v":0.9492},{"p":"L","k":"r","s":"R8","e":250,"v":0.9518},{"p":"L","k":"r","s":"R8","e":300,"v":0.9542},{"p":"L","k":"r","s":"R8","e":350,"v":0.9558},{"p":"L","k":"r","s":"R8","e":400,"v":0.9582},{"p":"L","k":"r","s":"R8","e":450,"v":0.9595},{"p":"L","k":"r","s":"R8","e":500,"v":0.9618},{"p":"L","k":"r","s":"R8","e":550,"v":0.9622},{"p":"L","k":"r","s":"R8","e":600,"v":0.9648},{"p":"L","k":"r","s":"R8","e":650,"v":0.9652},{"p":"L","k":"r","s":"R8","e":700,"v":0.9672},{"p":"L","k":"r","s":"R8","e":750,"v":0.9682},{"p":"L","k":"r","s":"R8","e":800,"v":0.9702},{"p":"L","k":"r","s":"R8","e":850,"v":0.9708},{"p":"L","k":"r","s":"R8","e":900,"v":0.9722},{"p":"L","k":"r","s":"R8","e":950,"v":0.9726},{"p":"L","k":"r","s":"R8","e":990,"v":0.9735},
{"p":"L","k":"g","s":"h1","e":0,"v":0.995},{"p":"L","k":"g","s":"h1","e":5,"v":0.988},{"p":"L","k":"g","s":"h1","e":11,"v":0.984},{"p":"L","k":"g","s":"h1","e":30,"v":0.9825},{"p":"L","k":"g","s":"h1","e":60,"v":0.9815},{"p":"L","k":"g","s":"h1","e":93,"v":0.9812},{"p":"L","k":"g","s":"h1","e":114,"v":0.981},{"p":"L","k":"g","s":"h1","e":140,"v":0.9818},{"p":"L","k":"g","s":"h1","e":165,"v":0.983},{"p":"L","k":"g","s":"h1","e":189,"v":0.9845},{"p":"L","k":"g","s":"h1","e":230,"v":0.988},
{"p":"L","k":"g","s":"h2","e":0,"v":0.995},{"p":"L","k":"g","s":"h2","e":4,"v":0.982},{"p":"L","k":"g","s":"h2","e":10,"v":0.976},{"p":"L","k":"g","s":"h2","e":18,"v":0.9726},{"p":"L","k":"g","s":"h2","e":30,"v":0.9718},{"p":"L","k":"g","s":"h2","e":50,"v":0.972},{"p":"L","k":"g","s":"h2","e":80,"v":0.9735},{"p":"L","k":"g","s":"h2","e":110,"v":0.9758},{"p":"L","k":"g","s":"h2","e":140,"v":0.978},{"p":"L","k":"g","s":"h2","e":170,"v":0.981},{"p":"L","k":"g","s":"h2","e":195,"v":0.9845},{"p":"L","k":"g","s":"h2","e":230,"v":0.989},
{"p":"L","k":"g","s":"h3","e":0,"v":0.99},{"p":"L","k":"g","s":"h3","e":5,"v":0.978},{"p":"L","k":"g","s":"h3","e":15,"v":0.9725},{"p":"L","k":"g","s":"h3","e":30,"v":0.9715},{"p":"L","k":"g","s":"h3","e":100,"v":0.9712},{"p":"L","k":"g","s":"h3","e":200,"v":0.9711},{"p":"L","k":"g","s":"h3","e":300,"v":0.9712},{"p":"L","k":"g","s":"h3","e":400,"v":0.9716},{"p":"L","k":"g","s":"h3","e":500,"v":0.9722},{"p":"L","k":"g","s":"h3","e":600,"v":0.973},{"p":"L","k":"g","s":"h3","e":700,"v":0.974},{"p":"L","k":"g","s":"h3","e":800,"v":0.9752},{"p":"L","k":"g","s":"h3","e":900,"v":0.9762},{"p":"L","k":"g","s":"h3","e":990,"v":0.977},
{"p":"L","k":"g","s":"h4","e":0,"v":0.99},{"p":"L","k":"g","s":"h4","e":5,"v":0.974},{"p":"L","k":"g","s":"h4","e":15,"v":0.969},{"p":"L","k":"g","s":"h4","e":40,"v":0.968},{"p":"L","k":"g","s":"h4","e":100,"v":0.967},{"p":"L","k":"g","s":"h4","e":200,"v":0.9662},{"p":"L","k":"g","s":"h4","e":300,"v":0.9658},{"p":"L","k":"g","s":"h4","e":400,"v":0.966},{"p":"L","k":"g","s":"h4","e":500,"v":0.9665},{"p":"L","k":"g","s":"h4","e":600,"v":0.967},{"p":"L","k":"g","s":"h4","e":700,"v":0.9677},{"p":"L","k":"g","s":"h4","e":800,"v":0.9683},{"p":"L","k":"g","s":"h4","e":900,"v":0.9687},{"p":"L","k":"g","s":"h4","e":990,"v":0.969},
{"p":"L","k":"g","s":"h5","e":0,"v":0.93},{"p":"L","k":"g","s":"h5","e":5,"v":0.958},{"p":"L","k":"g","s":"h5","e":15,"v":0.9655},{"p":"L","k":"g","s":"h5","e":30,"v":0.9668},{"p":"L","k":"g","s":"h5","e":80,"v":0.9665},{"p":"L","k":"g","s":"h5","e":150,"v":0.966},{"p":"L","k":"g","s":"h5","e":250,"v":0.9652},{"p":"L","k":"g","s":"h5","e":350,"v":0.9645},{"p":"L","k":"g","s":"h5","e":450,"v":0.964},{"p":"L","k":"g","s":"h5","e":550,"v":0.9638},{"p":"L","k":"g","s":"h5","e":650,"v":0.9637},{"p":"L","k":"g","s":"h5","e":750,"v":0.9638},{"p":"L","k":"g","s":"h5","e":850,"v":0.9639},{"p":"L","k":"g","s":"h5","e":990,"v":0.964},
{"p":"L","k":"g","s":"h6","e":0,"v":0.93},{"p":"L","k":"g","s":"h6","e":5,"v":0.955},{"p":"L","k":"g","s":"h6","e":15,"v":0.9635},{"p":"L","k":"g","s":"h6","e":30,"v":0.9652},{"p":"L","k":"g","s":"h6","e":80,"v":0.965},{"p":"L","k":"g","s":"h6","e":150,"v":0.9638},{"p":"L","k":"g","s":"h6","e":250,"v":0.9625},{"p":"L","k":"g","s":"h6","e":350,"v":0.9615},{"p":"L","k":"g","s":"h6","e":450,"v":0.961},{"p":"L","k":"g","s":"h6","e":550,"v":0.9608},{"p":"L","k":"g","s":"h6","e":650,"v":0.961},{"p":"L","k":"g","s":"h6","e":750,"v":0.9613},{"p":"L","k":"g","s":"h6","e":850,"v":0.9616},{"p":"L","k":"g","s":"h6","e":990,"v":0.9618},
{"p":"L","k":"g","s":"h7","e":0,"v":0.93},{"p":"L","k":"g","s":"h7","e":5,"v":0.95},{"p":"L","k":"g","s":"h7","e":15,"v":0.957},{"p":"L","k":"g","s":"h7","e":40,"v":0.9595},{"p":"L","k":"g","s":"h7","e":100,"v":0.9605},{"p":"L","k":"g","s":"h7","e":200,"v":0.9602},{"p":"L","k":"g","s":"h7","e":300,"v":0.96},{"p":"L","k":"g","s":"h7","e":400,"v":0.9598},{"p":"L","k":"g","s":"h7","e":500,"v":0.9598},{"p":"L","k":"g","s":"h7","e":600,"v":0.9603},{"p":"L","k":"g","s":"h7","e":700,"v":0.961},{"p":"L","k":"g","s":"h7","e":800,"v":0.9618},{"p":"L","k":"g","s":"h7","e":900,"v":0.9625},{"p":"L","k":"g","s":"h7","e":990,"v":0.9633},
{"p":"L","k":"g","s":"h8","e":0,"v":0.93},{"p":"L","k":"g","s":"h8","e":5,"v":0.948},{"p":"L","k":"g","s":"h8","e":15,"v":0.9545},{"p":"L","k":"g","s":"h8","e":40,"v":0.9575},{"p":"L","k":"g","s":"h8","e":100,"v":0.959},{"p":"L","k":"g","s":"h8","e":200,"v":0.9605},{"p":"L","k":"g","s":"h8","e":300,"v":0.9618},{"p":"L","k":"g","s":"h8","e":400,"v":0.963},{"p":"L","k":"g","s":"h8","e":500,"v":0.964},{"p":"L","k":"g","s":"h8","e":600,"v":0.9648},{"p":"L","k":"g","s":"h8","e":700,"v":0.9655},{"p":"L","k":"g","s":"h8","e":800,"v":0.966},{"p":"L","k":"g","s":"h8","e":900,"v":0.9664},{"p":"L","k":"g","s":"h8","e":990,"v":0.9667},
{"p":"L","k":"g","s":"h9","e":0,"v":0.99},{"p":"L","k":"g","s":"h9","e":5,"v":0.972},{"p":"L","k":"g","s":"h9","e":15,"v":0.9675},{"p":"L","k":"g","s":"h9","e":40,"v":0.967},{"p":"L","k":"g","s":"h9","e":100,"v":0.9672},{"p":"L","k":"g","s":"h9","e":200,"v":0.9678},{"p":"L","k":"g","s":"h9","e":300,"v":0.9685},{"p":"L","k":"g","s":"h9","e":400,"v":0.9695},{"p":"L","k":"g","s":"h9","e":500,"v":0.9705},{"p":"L","k":"g","s":"h9","e":600,"v":0.9713},{"p":"L","k":"g","s":"h9","e":700,"v":0.972},{"p":"L","k":"g","s":"h9","e":800,"v":0.9727},{"p":"L","k":"g","s":"h9","e":900,"v":0.9732},{"p":"L","k":"g","s":"h9","e":990,"v":0.9735},
{"p":"L","k":"g","s":"h10","e":0,"v":0.93},{"p":"L","k":"g","s":"h10","e":4,"v":0.953},{"p":"L","k":"g","s":"h10","e":10,"v":0.957},{"p":"L","k":"g","s":"h10","e":30,"v":0.9568},{"p":"L","k":"g","s":"h10","e":60,"v":0.956},{"p":"L","k":"g","s":"h10","e":100,"v":0.9548},{"p":"L","k":"g","s":"h10","e":150,"v":0.9527},{"p":"L","k":"g","s":"h10","e":200,"v":0.9505},{"p":"L","k":"g","s":"h10","e":284,"v":0.9475},{"p":"L","k":"g","s":"h10","e":350,"v":0.9455},{"p":"L","k":"g","s":"h10","e":421,"v":0.944},{"p":"L","k":"g","s":"h10","e":500,"v":0.943},{"p":"L","k":"g","s":"h10","e":560,"v":0.9427},{"p":"L","k":"g","s":"h10","e":620,"v":0.9428},{"p":"L","k":"g","s":"h10","e":700,"v":0.9433},{"p":"L","k":"g","s":"h10","e":760,"v":0.9438},{"p":"L","k":"g","s":"h10","e":824,"v":0.9447},{"p":"L","k":"g","s":"h10","e":900,"v":0.9462},{"p":"L","k":"g","s":"h10","e":990,"v":0.948},
{"p":"L","k":"g","s":"h11","e":0,"v":0.9},{"p":"L","k":"g","s":"h11","e":400,"v":0.92},{"p":"L","k":"g","s":"h11","e":700,"v":0.93},{"p":"L","k":"g","s":"h11","e":830,"v":0.9345},{"p":"L","k":"g","s":"h11","e":900,"v":0.937},{"p":"L","k":"g","s":"h11","e":990,"v":0.9403}
]},
"resolve":{"scale":{"color":"independent"},"legend":{"color":"independent"}},
"spacing":14,
"hconcat":[
{"width":266,"height":190,"title":"Uniform Sampling",
"transform":[{"filter":"datum.p==='U'"}],
"encoding":{
"x":{"field":"e","type":"quantitative","scale":{"domain":[-49.5,1039.5],"nice":false,"zero":false},"axis":{"values":[0,500,1000],"format":"d","labelFont":"Liberation Serif","title":"Epochs","titlePadding":1}},
"y":{"field":"v","type":"quantitative","scale":{"domain":[0.935,0.985],"nice":false,"zero":false},"axis":{"values":[0.94,0.96,0.98],"format":".2f","labelFont":"Liberation Serif","title":"Similarity","titlePadding":-2}}},
"layer":[
{"transform":[{"filter":"datum.k==='g'"}],"mark":{"type":"line","clip":true,"color":"#a8a8a8","strokeWidth":0.8,"opacity":0.75},"encoding":{"detail":{"field":"s"}}},
{"transform":[{"filter":"datum.k==='r'"}],"mark":{"type":"line","clip":true,"color":"#ff0000","strokeWidth":0.8,"opacity":0.28},"encoding":{"detail":{"field":"s"}}},
{"transform":[{"filter":"datum.k==='t'"}],"mark":{"type":"line","clip":true,"strokeWidth":3},"encoding":{"color":{"field":"s","type":"nominal","scale":{"domain":["Conflict","Aligned"],"range":["#ff0000","#000000"]},"legend":{"title":null,"labelFont":"Liberation Serif"}}}}
]},
{"width":266,"height":190,"title":"LA-SSL Sampling",
"transform":[{"filter":"datum.p==='L'"}],
"encoding":{
"x":{"field":"e","type":"quantitative","scale":{"domain":[-49.5,1039.5],"nice":false,"zero":false},"axis":{"values":[0,500,1000],"format":"d","labelFont":"Liberation Serif","title":"Epochs","titlePadding":1}},
"y":{"field":"v","type":"quantitative","scale":{"domain":[0.935,0.985],"nice":false,"zero":false},"axis":{"values":[0.94,0.96,0.98],"format":".2f","labelFont":"Liberation Serif","title":null}}},
"layer":[
{"transform":[{"filter":"datum.k==='g'"}],"mark":{"type":"line","clip":true,"color":"#a8a8a8","strokeWidth":0.8,"opacity":0.75},"encoding":{"detail":{"field":"s"}}},
{"transform":[{"filter":"datum.k==='r'"}],"mark":{"type":"line","clip":true,"color":"#ff0000","strokeWidth":0.8,"opacity":0.28},"encoding":{"detail":{"field":"s"}}},
{"transform":[{"filter":"datum.k==='t'"}],"mark":{"type":"line","clip":true,"strokeWidth":3},"encoding":{"color":{"field":"s","type":"nominal","scale":{"domain":["Conflict","Aligned"],"range":["#ff0000","#000000"]},"legend":{"title":null,"labelFont":"Liberation Serif"}}}}
]}
]
}
